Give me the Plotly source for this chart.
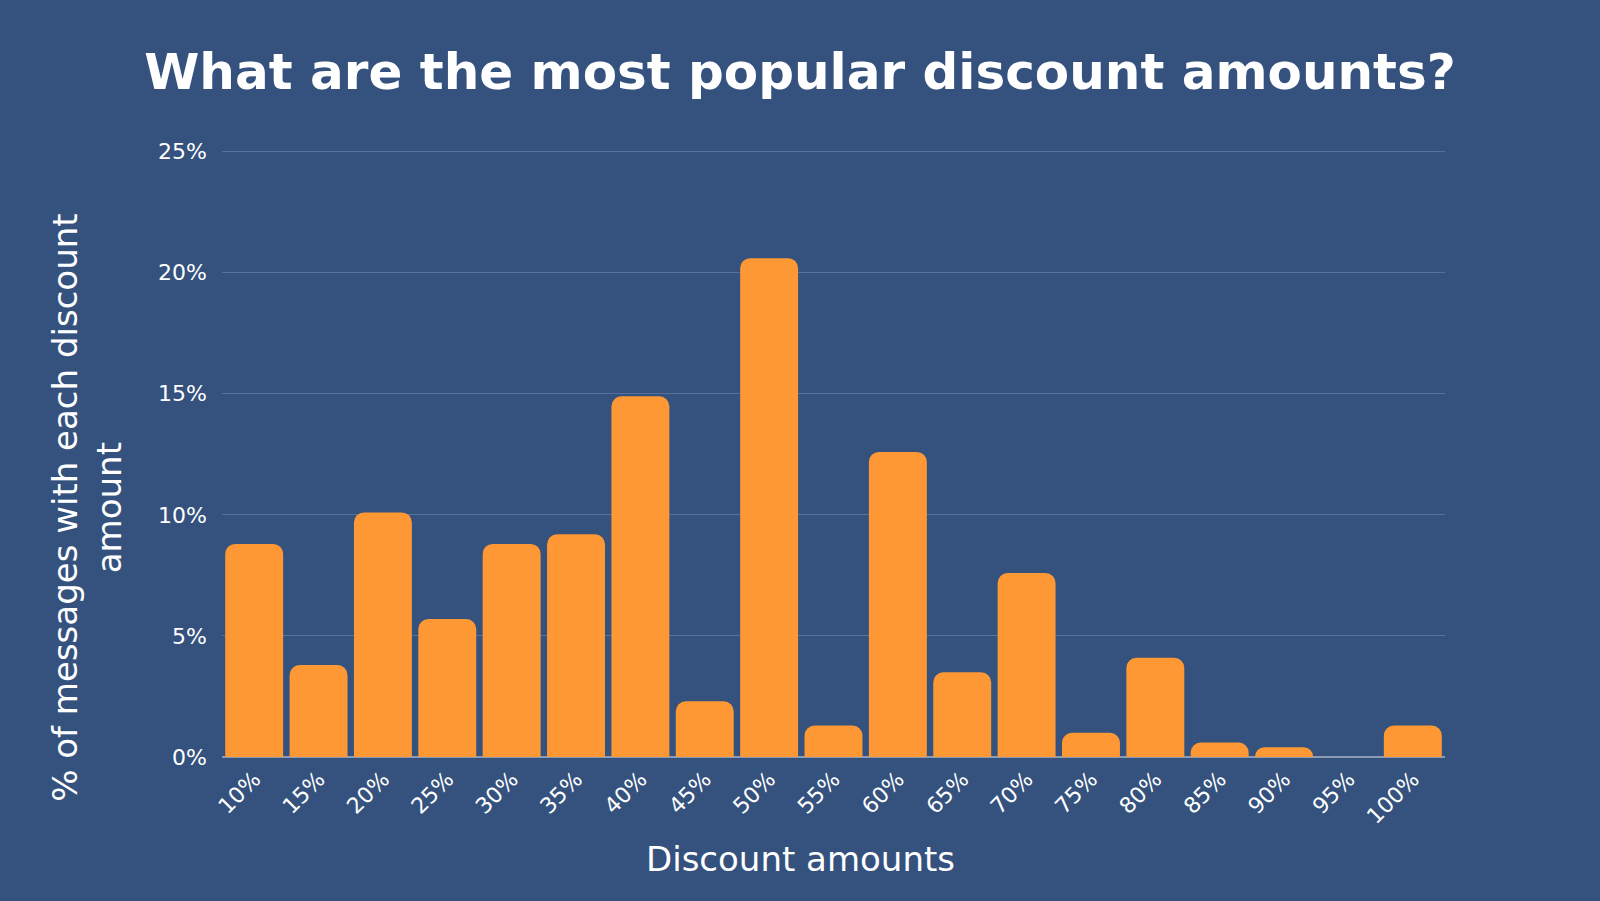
import plotly.graph_objects as go

# Data
categories = ["10%", "15%", "20%", "25%", "30%", "35%", "40%", "45%", "50%", "55%",
              "60%", "65%", "70%", "75%", "80%", "85%", "90%", "95%", "100%"]
share_pct = [8.8, 3.8, 10.1, 5.7, 8.8, 9.2, 14.9, 2.3, 20.6, 1.3,
             12.6, 3.5, 7.6, 1.0, 4.1, 0.6, 0.4, 0.0, 1.3]
y_tick_vals = [0, 5, 10, 15, 20, 25]
y_tick_text = ["0%", "5%", "10%", "15%", "20%", "25%"]

title_text = "What are the most popular discount amounts?"
x_title = "Discount amounts"
y_title = "% of messages with each discount<br>amount"

BG = "#34527D"
BAR = "#FE9834"
GRID = "#56719A"
TEXT = "#FFFFFF"
FONT = "DejaVu Sans, sans-serif"

Y_MAX = 25.15
PLOT_H = 605 * Y_MAX / 25  # pixels for range so that 25% lands on y=152

fig = go.Figure()
fig.add_trace(go.Bar(
    x=categories,
    y=share_pct,
    marker=dict(color=BAR, cornerradius=10, line=dict(width=0)),
    hoverinfo="x+y",
))

fig.update_layout(
    width=1600, height=901,
    paper_bgcolor=BG, plot_bgcolor=BG,
    margin=dict(l=222, r=155, t=int(round(901 - 144 - PLOT_H)), b=144),
    bargap=0.1,
    showlegend=False,
    title=dict(
        text=title_text,
        x=0.5, xref="container", xanchor="center",
        y=1 - 71 / 901, yref="container", yanchor="middle",
        font=dict(family=FONT, size=50, color=TEXT, weight="bold"),
    ),
    font=dict(family=FONT, color=TEXT),
)

fig.update_yaxes(
    range=[0, Y_MAX],
    tickvals=y_tick_vals, ticktext=y_tick_text,
    tickfont=dict(family=FONT, size=22, color=TEXT),
    showgrid=True, gridcolor=GRID, gridwidth=1,
    zeroline=True, zerolinecolor="#8A9BB3", zerolinewidth=2,
    showline=False, ticks="", ticklabelstandoff=14,
    fixedrange=True,
)
fig.update_xaxes(
    tickangle=-45,
    tickfont=dict(family=FONT, size=22, color=TEXT),
    showgrid=False, showline=False, ticks="",
    ticklabelstandoff=4,
    fixedrange=True,
)

# axis titles as annotations for precise placement
fig.add_annotation(
    text=y_title, textangle=-90,
    xref="paper", x=0, xshift=-135, xanchor="center",
    yref="y", y=(757 - 508) / 605 * 25, yanchor="middle",
    showarrow=False, align="center",
    font=dict(family=FONT, size=34, color=TEXT),
)
fig.add_annotation(
    text=x_title,
    xref="paper", x=(800 - 222) / 1223, xanchor="center",
    yref="paper", y=0, yshift=-(859 - 757), yanchor="middle",
    showarrow=False,
    font=dict(family=FONT, size=34, color=TEXT),
)

fig.write_html("out.html", config={"displayModeBar": False},
               post_script="document.body.style.margin='0';")
